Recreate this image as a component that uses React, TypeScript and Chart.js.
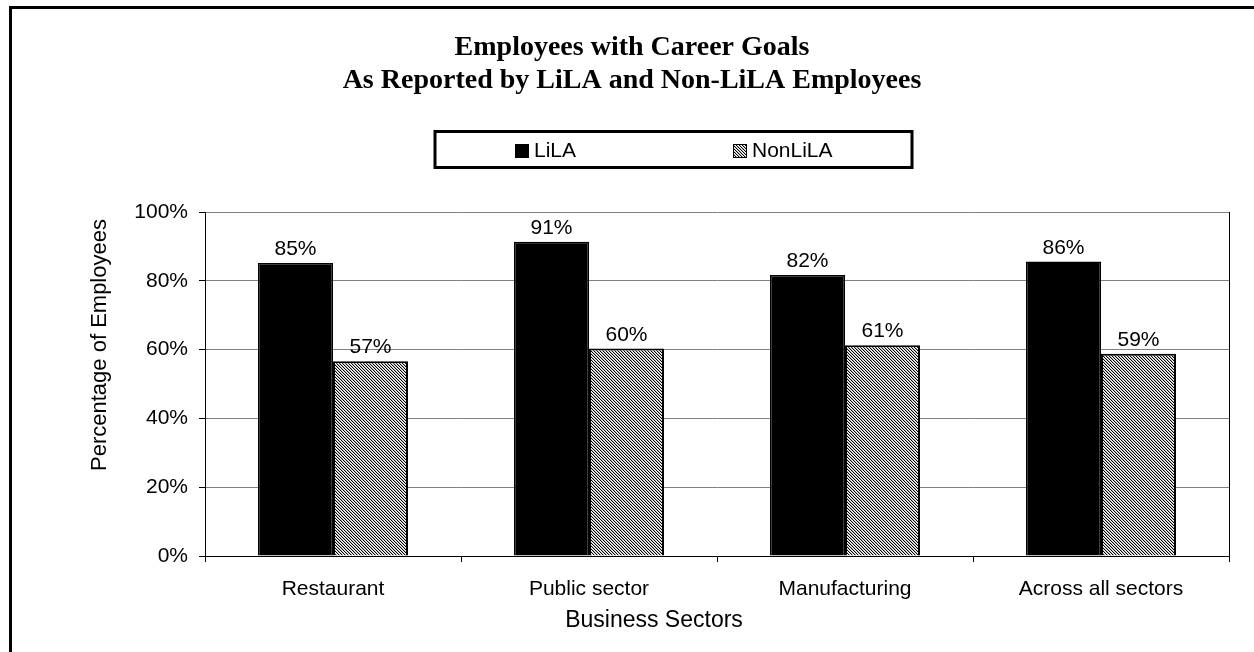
import React, { useEffect, useRef } from "react";
import { Chart, registerables } from "chart.js";

Chart.register(...registerables);

const titleLines = ["Employees with Career Goals", "As Reported by LiLA and Non-LiLA Employees"];
const categories = ["Restaurant", "Public sector", "Manufacturing", "Across all sectors"];
const seriesNames = ["LiLA", "NonLiLA"];
const lilaValues = [85.2, 91.4, 81.7, 85.6];
const nonLilaValues = [56.6, 60.3, 61.3, 58.8];
const yTicks = [0, 20, 40, 60, 80, 100];
const xAxisTitle = "Business Sectors";
const yAxisTitle = "Percentage of Employees";

const SANS = '"Liberation Sans", Arial, sans-serif';
const SERIF = '"Liberation Serif", "Times New Roman", serif';

function makePattern(): CanvasPattern | string {
  const pc = document.createElement("canvas");
  pc.width = 3;
  pc.height = 3;
  const c = pc.getContext("2d");
  if (!c) return "#999";
  c.fillStyle = "#ffffff";
  c.fillRect(0, 0, 3, 3);
  for (let i = 0; i < 3; i++) {
    c.fillStyle = "#000000";
    c.fillRect(i, i, 1, 1);
    c.fillStyle = "#b8b8b8";
    c.fillRect((i + 1) % 3, i, 1, 1);
  }
  const p = c.createPattern(pc, "repeat");
  return p || "#999";
}

export default function App() {
  const ref = useRef<HTMLCanvasElement | null>(null);

  useEffect(() => {
    if (!ref.current) return;
    const pattern = makePattern();

    const legendPlugin = {
      id: "boxLegend",
      afterDraw(chart: any) {
        const ctx = chart.ctx;
        ctx.save();
        ctx.lineWidth = 3;
        ctx.strokeStyle = "#000";
        ctx.strokeRect(435, 131.5, 477, 36);
        const items = [
          { sx: 515, tx: 534 },
          { sx: 733, tx: 752 },
        ];
        chart.data.datasets.forEach((ds: any, i: number) => {
          const it = items[i];
          ctx.fillStyle = ds.backgroundColor;
          ctx.fillRect(it.sx, 144, 14, 14);
          ctx.lineWidth = 1;
          ctx.strokeStyle = "#000";
          ctx.strokeRect(it.sx + 0.5, 144.5, 13, 13);
          ctx.fillStyle = "#000";
          ctx.font = `21px ${SANS}`;
          ctx.textBaseline = "middle";
          ctx.textAlign = "left";
          ctx.fillText(ds.label, it.tx, 151.5);
        });

        // axis titles
        ctx.fillStyle = "#000";
        ctx.textAlign = "center";
        ctx.textBaseline = "middle";
        ctx.font = `23px ${SANS}`;
        ctx.fillText(xAxisTitle, 654, 621);
        ctx.save();
        ctx.translate(100, 345);
        ctx.rotate(-Math.PI / 2);
        ctx.font = `22px ${SANS}`;
        ctx.fillText(yAxisTitle, 0, 0);
        ctx.restore();
        ctx.restore();
      },
    };

    const labelPlugin = {
      id: "valueLabels",
      afterDatasetsDraw(chart: any) {
        const ctx = chart.ctx;
        ctx.save();
        ctx.font = `21px ${SANS}`;
        ctx.fillStyle = "#000";
        ctx.textAlign = "center";
        ctx.textBaseline = "alphabetic";
        chart.data.datasets.forEach((ds: any, di: number) => {
          const meta = chart.getDatasetMeta(di);
          meta.data.forEach((bar: any, i: number) => {
            ctx.fillText(`${Math.round(ds.data[i])}%`, bar.x, bar.y - 8);
          });
        });
        const a = chart.chartArea;
        ctx.strokeStyle = "#000";
        ctx.lineWidth = 1;
        ctx.beginPath();
        ctx.moveTo(Math.round(a.right) + 0.5, a.top);
        ctx.lineTo(Math.round(a.right) + 0.5, a.bottom);
        ctx.stroke();
        ctx.restore();
      },
    };

    const chart = new Chart(ref.current, {
      type: "bar",
      data: {
        labels: categories,
        datasets: [
          {
            label: seriesNames[0],
            data: lilaValues,
            backgroundColor: "#000000",
            borderColor: "#000000",
            borderWidth: 1.5,
          },
          {
            label: seriesNames[1],
            data: nonLilaValues,
            backgroundColor: pattern as any,
            borderColor: "#000000",
            borderWidth: 2,
          },
        ],
      },
      options: {
        animation: false,
        responsive: false,
        maintainAspectRatio: false,
        datasets: {
          bar: { categoryPercentage: 0.586, barPercentage: 1 },
        },
        layout: { padding: { left: 35, right: 25, top: 0, bottom: 0 } },
        plugins: {
          legend: { display: false },
          tooltip: { enabled: false },
          title: {
            display: true,
            text: titleLines,
            color: "#000",
            font: { family: SERIF, size: 28, weight: "bold", lineHeight: 1.18 },
            padding: { top: 31, bottom: 115 },
          },
        },
        scales: {
          x: {
            afterFit(scale: any) {
              scale.height = 96;
            },
            grid: {
              offset: true,
              drawOnChartArea: false,
              drawTicks: true,
              tickLength: 6,
              color: "#000",
            },
            border: { color: "#000", width: 1 },
            ticks: {
              color: "#000",
              font: { family: SANS, size: 21 },
              padding: 15,
              maxRotation: 0,
            },
            title: { display: false, text: xAxisTitle },
          },
          y: {
            min: 0,
            max: 100,
            afterFit(scale: any) {
              scale.width = 170;
            },
            afterBuildTicks(scale: any) {
              scale.ticks = yTicks.map((v) => ({ value: v }));
            },
            grid: {
              color: "#808080",
              tickColor: "#000",
              drawTicks: true,
              tickLength: 6,
            },
            border: { color: "#000", width: 1 },
            ticks: {
              color: "#000",
              font: { family: SANS, size: 21 },
              padding: 11,
              callback: (v: any) => `${v}%`,
            },
            title: { display: false, text: yAxisTitle },
          },
        },
      },
      plugins: [labelPlugin, legendPlugin],
    });

    return () => chart.destroy();
  }, []);

  return (
    <div
      style={{
        position: "fixed",
        left: 0,
        top: 0,
        width: 1254,
        height: 652,
        overflow: "hidden",
        background: "#fff",
      }}
    >
      <div
        style={{
          position: "absolute",
          left: 9,
          top: 6,
          width: 1400,
          height: 800,
          border: "3px solid #000",
          boxSizing: "border-box",
        }}
      />
      <canvas
        ref={ref}
        width={1254}
        height={652}
        style={{ position: "absolute", left: 0, top: 0, width: 1254, height: 652 }}
      />
    </div>
  );
}
